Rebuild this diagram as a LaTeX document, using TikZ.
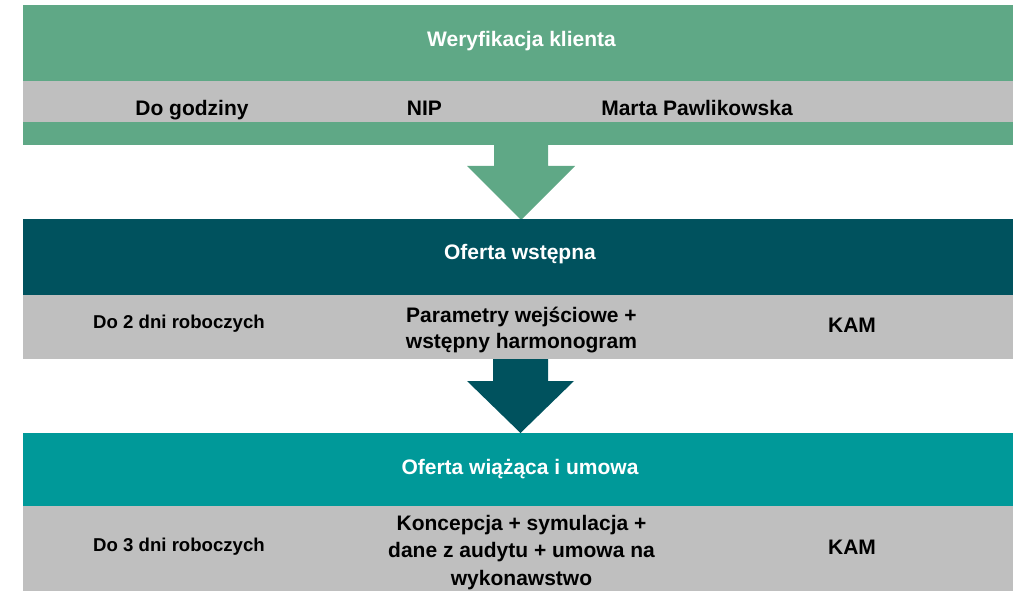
\documentclass[tikz,border=0pt]{standalone}
\usepackage{fontspec}
\setmainfont{Liberation Sans}
\definecolor{cgreen}{HTML}{5FA886}
\definecolor{cdark}{HTML}{00525E}
\definecolor{cteal}{HTML}{009999}
\definecolor{cgrey}{HTML}{BFBFBF}
\begin{document}
\begin{tikzpicture}[x=1pt,y=-1pt,
  band/.style={inner sep=0pt, outer sep=0pt, anchor=north west, minimum width=990pt, draw=none},
  head/.style={font=\bfseries\fontsize{21}{26}\selectfont, text=white, anchor=base, inner sep=0pt},
  cell/.style={font=\bfseries\fontsize{21}{27}\selectfont, text=black, anchor=base, align=center, inner sep=0pt},
  small/.style={font=\bfseries\fontsize{18.6}{24}\selectfont, text=black, anchor=base, inner sep=0pt}]
\useasboundingbox (0,0) rectangle (1013,591);
% block 1
\node[band, fill=cgreen, minimum height=76pt] (h1) at (23,5) {};
\node[band, fill=cgrey, minimum height=41pt] (g1) at (23,81) {};
\node[band, fill=cgreen, minimum height=23pt] (f1) at (23,122) {};
% arrow 1
\fill[cgreen] (494,145) -- (548,145) -- (548,166) -- (575,166) -- (521,220) -- (467,166) -- (494,166) -- cycle;
% block 2
\node[band, fill=cdark, minimum height=76pt] (h2) at (23,219) {};
\node[band, fill=cgrey, minimum height=64pt] (g2) at (23,295) {};
% arrow 2
\fill[cdark] (493,359) -- (548,359) -- (548,381) -- (574,381) -- (520.5,433) -- (467,381) -- (493,381) -- cycle;
% block 3
\node[band, fill=cteal, minimum height=73pt] (h3) at (23,433) {};
\node[band, fill=cgrey, minimum height=85pt] (g3) at (23,506) {};
% texts
\node[head] (t1) at (521.5,47) {Weryfikacja klienta};
\node[cell] (t1a) at (192,116) {Do godziny};
\node[cell] (t1b) at (424.5,116) {NIP};
\node[cell] (t1c) at (697,116) {Marta Pawlikowska};
\node[head] (t2) at (520,259) {Oferta wstępna};
\node[small] (t2a) at (179,328) {Do 2 dni roboczych};
\node[cell, font=\bfseries\fontsize{21}{26}\selectfont] (t2b) at (521.5,348) {Parametry wejściowe +\\wstępny harmonogram};
\node[cell] (t2c) at (852,332) {KAM};
\node[head] (t3) at (520,474) {Oferta wiążąca i umowa};
\node[small] (t3a) at (179,551) {Do 3 dni roboczych};
\node[cell, font=\bfseries\fontsize{21}{27.5}\selectfont] (t3b) at (521.5,585) {Koncepcja + symulacja +\\dane z audytu + umowa na\\wykonawstwo};
\node[cell] (t3c) at (852,554) {KAM};
\end{tikzpicture}
\end{document}
